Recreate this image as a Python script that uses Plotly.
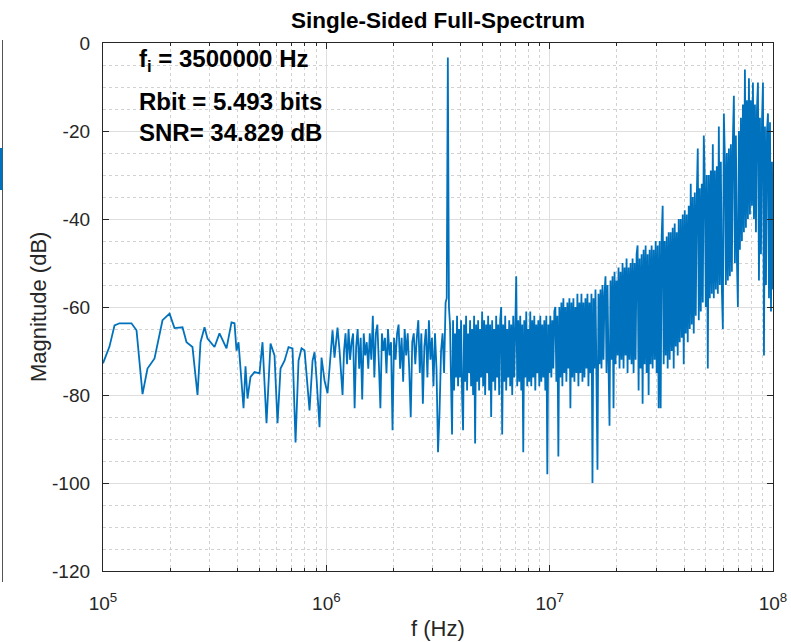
import numpy as np
import plotly.graph_objects as go

# ---------------- data ----------------
# low-frequency part: individual FFT bins (Hz, dB)
low_freq_hz = [1.000e5, 1.069e5, 1.126e5, 1.185e5, 1.341e5, 1.413e5, 1.503e5, 1.582e5, 1.701e5, 1.847e5,
               1.986e5, 2.090e5, 2.270e5, 2.366e5, 2.516e5, 2.650e5, 2.733e5, 2.848e5, 2.938e5, 3.157e5,
               3.324e5, 3.573e5, 3.762e5, 3.880e5, 3.961e5, 4.044e5, 4.258e5, 4.346e5, 4.437e5, 4.576e5,
               4.769e5, 5.021e5, 5.179e5, 5.397e5, 5.625e5, 5.861e5, 6.046e5, 6.236e5, 6.499e5, 6.772e5,
               7.057e5, 7.279e5, 7.508e5, 7.745e5, 7.989e5, 8.410e5, 8.675e5, 8.856e5, 9.040e5, 9.324e5,
               9.517e5, 9.815e5, 1.0125e6, 1.066e6, 1.088e6, 1.122e6, 1.146e6, 1.182e6]
low_mag_db = [-72.8, -69.0, -64.2, -63.7, -63.7, -65.3, -79.8, -74.0, -71.7, -63.0,
              -61.5, -64.8, -64.6, -68.0, -69.1, -80.0, -68.0, -64.6, -67.2, -69.1,
              -66.0, -69.4, -63.5, -63.7, -69.9, -68.0, -83.0, -73.5, -80.8, -75.9,
              -74.8, -75.1, -68.0, -86.4, -68.3, -71.0, -86.4, -74.0, -72.2, -69.1,
              -69.4, -90.8, -72.2, -69.4, -69.9, -83.5, -72.2, -70.3, -76.2, -87.3,
              -71.5, -76.7, -79.6, -65.3, -71.5, -64.7, -69.9, -80.0]

# mid band 1.2 MHz .. 3.42 MHz (bins evenly spaced on the log axis)
mid_f_start, mid_f_stop = 1.2e6, 3.42e6
mid_mag_db = [-70, -66, -73, -65, -72, -68, -66, -83, -69, -65,
              -74, -67, -81, -66, -71, -68, -74, -66, -72, -62,
              -76, -66, -64, -73, -83, -66, -70, -67, -75, -65,
              -71, -68, -88, -67, -72, -66, -64, -74, -67, -77,
              -65, -71, -66, -74, -85, -68, -66, -73, -67, -63,
              -75, -66, -82, -69, -65, -76, -63, -72, -67, -78,
              -66, -74, -93, -84, -70, -66, -75, -59]

# input tone at 3.5 MHz
tone_freq_hz = [3.46e6, 3.5e6, 3.54e6]
tone_mag_db = [-58, -3.3, -60]

# dense band 3.58 MHz .. 100 MHz (bins evenly spaced on the log axis)
dense_f_start, dense_f_stop = 3.58e6, 1.0e8
dense_mag_db = [
    -64, -77, -89, -63, -79, -66, -76, -62, -78, -65,
    -76, -63, -80, -88, -64, -77, -62, -79, -66, -75,
    -63, -78, -65, -80, -62, -91, -64, -77, -63, -79,
    -65, -76, -61, -78, -63, -80, -64, -75, -62, -79,
    -64, -85, -63, -77, -65, -79, -62, -76, -64, -80,
    -63, -60, -89, -64, -77, -62, -79, -65, -76, -63,
    -78, -64, -80, -62, -76, -65, -53, -78, -63, -77,
    -62, -79, -64, -93, -63, -76, -61, -78, -65, -77,
    -61, -78, -63, -76, -62, -79, -64, -75, -63, -78,
    -62, -77, -64, -76, -63, -79, -62, -98, -64, -75,
    -62, -76, -63, -74, -61, -60, -77, -62, -94, -60,
    -76, -59, -78, -58, -75, -60, -77, -59, -74, -58,
    -83, -59, -76, -58, -77, -60, -75, -57, -78, -59,
    -75, -57, -77, -59, -76, -58, -74, -57, -78, -59,
    -75, -57, -100, -58, -74, -56, -76, -97, -57, -73,
    -56, -74, -55, -72, -57, -53, -75, -55, -73, -87,
    -54, -72, -53, -83, -52, -73, -54, -71, -51, -74,
    -52, -72, -50, -74, -51, -71, -49, -75, -51, -72,
    -50, -73, -49, -75, -50, -72, -48, -46, -79, -49,
    -74, -48, -82, -47, -73, -46, -75, -48, -80, -47,
    -73, -46, -74, -47, -72, -45, -75, -46, -83, -45,
    -83, -44, -37, -73, -45, -71, -44, -74, -43, -72,
    -43, -70, -42, -74, -41, -69, -43, -71, -40, -68,
    -40, -67, -39, -73, -38, -66, -39, -68, -37, -65,
    -32, -64, -35, -66, -34, -62, -35, -24, -63, -33,
    -61, -32, -59, -21, -31, -60, -30, -74, -30, -58,
    -29, -57, -23, -58, -29, -56, -28, -57, -19, -55,
    -27, -56, -65, -16, -26, -55, -25, -54, -24, -53,
    -23, -52, -22, -12, -50, -21, -49, -60, -20, -47,
    -17, -45, -14, -43, -6, -42, -13, -40, -8, -39,
    -13, -37, -9, -40, -14, -43, -15, -9, -54, -17,
    -48, -18, -9, -71, -19, -55, -20, -16, -58, -18,
    -61, -27, -56]

y_tick_vals = [-120, -100, -80, -60, -40, -20, 0]
y_tick_text = ["-120", "-100", "-80", "-60", "-40", "-20", "0"]
x_tick_vals = [1e5, 1e6, 1e7, 1e8]
x_tick_text = ["10<sup>5</sup>", "10<sup>6</sup>", "10<sup>7</sup>", "10<sup>8</sup>"]
x_minor_vals = [m * 10 ** d for d in (5, 6, 7) for m in range(2, 10)]

info_lines = ["<b>f<sub>i</sub> = 3500000 Hz</b>", "<b>Rbit = 5.493 bits</b>", "<b>SNR= 34.829 dB</b>"]

# ---------------- assemble series ----------------
mid_freq = np.geomspace(mid_f_start, mid_f_stop, len(mid_mag_db))
dense_freq = np.geomspace(dense_f_start, dense_f_stop, len(dense_mag_db))
freq = np.concatenate([low_freq_hz, mid_freq, tone_freq_hz, dense_freq])
mag = np.concatenate([low_mag_db, mid_mag_db, tone_mag_db, dense_mag_db])

W, H = 791, 642
L, R, T, B = 103, 18, 43, 71
PW, PH = W - L - R, H - T - B


def px(x):
    return (x - L) / PW


def py(y):
    return 1 - (y - T) / PH


FONT = "Liberation Sans, Arial, Helvetica, sans-serif"
AX = "#262626"

fig = go.Figure()
fig.add_trace(go.Scatter(x=freq, y=mag, mode="lines",
                         line=dict(color="#0072BD", width=1.8, simplify=False),
                         hoverinfo="skip"))

fig.update_layout(
    width=W, height=H,
    margin=dict(l=L, r=R, t=T, b=B, autoexpand=False),
    plot_bgcolor="white", paper_bgcolor="white",
    showlegend=False,
    font=dict(family=FONT, color=AX, size=19),
    title=dict(text="<b>Single-Sided Full-Spectrum</b>", xref="paper", x=px(438), xanchor="center",
               yref="container", y=1 - 20 / H, yanchor="middle",
               font=dict(size=22.5, color="#000000", family=FONT)),
)

fig.update_xaxes(
    type="log", range=[5, 8], automargin=False,
    tickmode="array", tickvals=x_tick_vals, ticktext=x_tick_text,
    ticks="inside", ticklen=6, tickwidth=1, tickcolor=AX,
    showline=True, linecolor=AX, linewidth=1.3, mirror="allticks",
    showgrid=True, gridcolor="#dedede", gridwidth=1, zeroline=False,
    tickfont=dict(size=19, color=AX, family=FONT),
    ticklabelstandoff=15,
    minor=dict(tickmode="array", tickvals=x_minor_vals, ticks="inside", ticklen=3,
               tickcolor=AX, showgrid=True, gridcolor="#d2d2d2", griddash="dot", gridwidth=1),
)
fig.update_yaxes(
    range=[-120, 0], automargin=False,
    tickmode="array", tickvals=y_tick_vals, ticktext=y_tick_text,
    ticks="inside", ticklen=6, tickwidth=1, tickcolor=AX,
    showline=True, linecolor=AX, linewidth=1.3, mirror="allticks",
    showgrid=True, gridcolor="#dedede", gridwidth=1, zeroline=False,
    tickfont=dict(size=19, color=AX, family=FONT),
    ticklabelstandoff=8,
    minor=dict(dtick=5, tick0=0, ticks="", showgrid=True, gridcolor="#d2d2d2",
               griddash="dot", gridwidth=1),
)

# axis titles
fig.add_annotation(text="f (Hz)", xref="paper", yref="paper", x=px(438), y=py(628),
                   xanchor="center", yanchor="middle", showarrow=False,
                   font=dict(size=22, color=AX, family=FONT))
fig.add_annotation(text="Magnitude (dB)", xref="paper", yref="paper", x=px(38), y=py(307),
                   xanchor="center", yanchor="middle", showarrow=False, textangle=-90,
                   font=dict(size=22, color=AX, family=FONT))

# info text block
for txt, yc in zip(info_lines, [60, 101, 133]):
    fig.add_annotation(text=txt, xref="paper", yref="paper", x=px(137), y=py(yc),
                       xanchor="left", yanchor="middle", showarrow=False,
                       font=dict(size=24, color="#000000", family=FONT))

# remnant of neighbouring axes at the left edge
fig.add_shape(type="line", xref="paper", yref="paper", x0=px(2.5), x1=px(2.5),
              y0=py(40), y1=py(582), line=dict(color="#555555", width=1))
fig.add_shape(type="rect", xref="paper", yref="paper", x0=px(0), x1=px(2.5),
              y0=py(190), y1=py(148), line=dict(width=0), fillcolor="#0072BD")

fig.write_html("out.html")
